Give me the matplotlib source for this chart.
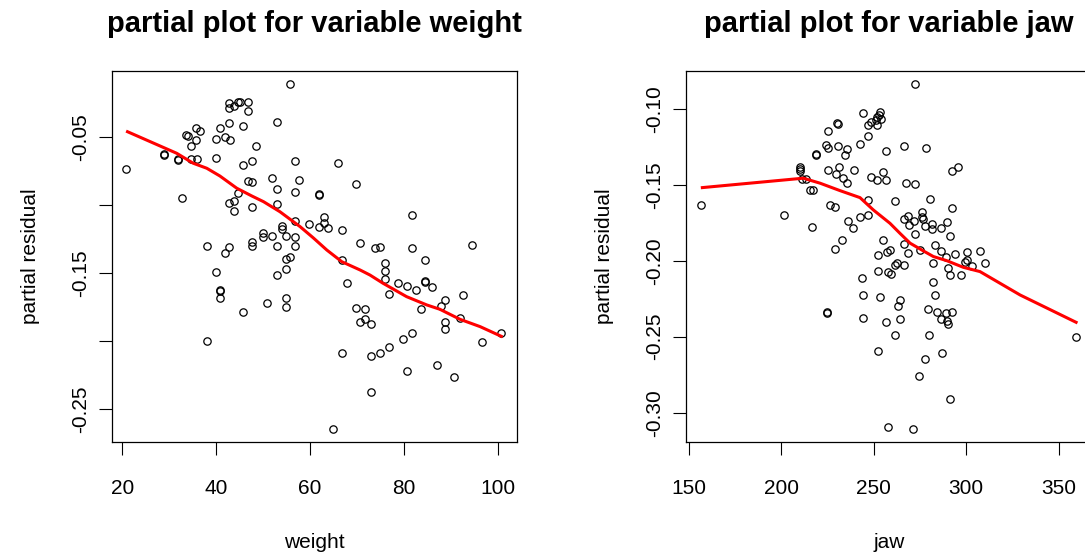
import matplotlib.pyplot as plt

plt.rcParams['font.family'] = ['Liberation Sans', 'DejaVu Sans']

# weight: partial residuals
weight = [55.8, 42.8, 42.8, 43.8, 44.7, 45.0, 46.8, 46.7, 52.9, 35.6, 36.6, 33.6, 33.9, 35.7, 34.6,
          40.8, 42.8, 45.8, 39.9, 41.9, 42.9, 48.6, 28.9, 28.9, 31.8, 31.8, 34.6, 35.9, 40.0, 20.8,
          45.8, 47.7, 56.8, 46.7, 47.7, 51.9, 52.9, 57.7, 56.8, 32.8, 44.7, 43.9, 42.8, 43.8, 47.7,
          52.9, 61.9, 61.9, 56.8, 59.7, 61.9, 54.0, 54.0, 54.8, 56.8, 49.9, 49.9, 51.9, 38.0, 42.8,
          47.7, 47.7, 52.9, 56.8, 41.9, 54.8, 55.8, 54.8, 52.9, 39.9, 40.9, 40.9, 40.9, 45.8, 50.9,
          54.8, 54.8, 38.0, 65.9, 69.8, 62.9, 62.9, 63.9, 66.8, 81.8, 70.7, 73.9, 74.9, 81.8, 94.6,
          66.8, 84.6, 75.9, 75.9, 75.9, 67.8, 78.8, 80.7, 82.7, 84.6, 84.6, 86.0, 76.9, 88.9, 87.9,
          92.7, 69.8, 71.7, 83.7, 71.7, 70.7, 73.0, 88.9, 88.9, 91.9, 100.8, 96.6, 81.8, 79.8, 76.9,
          74.9, 73.0, 66.8, 87.0, 80.8, 90.7, 73.0, 64.9]
weight_res = [-0.0108, -0.0250, -0.0287, -0.0270, -0.0242, -0.0240, -0.0240, -0.0309, -0.0387, -0.0429,
              -0.0454, -0.0485, -0.0490, -0.0520, -0.0566, -0.0432, -0.0397, -0.0419, -0.0510, -0.0498,
              -0.0520, -0.0566, -0.0623, -0.0632, -0.0658, -0.0667, -0.0662, -0.0662, -0.0655, -0.0733,
              -0.0702, -0.0677, -0.0677, -0.0822, -0.0831, -0.0800, -0.0878, -0.0812, -0.0903, -0.0945,
              -0.0912, -0.0967, -0.0981, -0.1045, -0.1011, -0.0991, -0.0915, -0.0925, -0.1114, -0.1136,
              -0.1158, -0.1153, -0.1177, -0.1224, -0.1232, -0.1202, -0.1232, -0.1224, -0.1300, -0.1311,
              -0.1269, -0.1298, -0.1300, -0.1300, -0.1350, -0.1394, -0.1379, -0.1472, -0.1514, -0.1494,
              -0.1624, -0.1634, -0.1683, -0.1784, -0.1718, -0.1683, -0.1751, -0.1997, -0.0687, -0.0844,
              -0.1087, -0.1133, -0.1168, -0.1182, -0.1070, -0.1280, -0.1317, -0.1310, -0.1313, -0.1291,
              -0.1405, -0.1405, -0.1427, -0.1484, -0.1541, -0.1573, -0.1573, -0.1595, -0.1626, -0.1558,
              -0.1567, -0.1604, -0.1651, -0.1695, -0.1742, -0.1661, -0.1754, -0.1764, -0.1764, -0.1837,
              -0.1862, -0.1877, -0.1860, -0.1909, -0.1830, -0.1940, -0.2009, -0.1940, -0.1987, -0.2041,
              -0.2088, -0.2110, -0.2088, -0.2176, -0.2222, -0.2264, -0.2377, -0.2647]
# lowess smooth
weight_fit_x = [21.1, 31.6, 35.1, 38.0, 40.8, 44.4, 47.6, 50.1, 53.6, 57.9, 60.7, 63.6, 66.8, 70.7,
                72.8, 75.6, 80.6, 84.9, 87.7, 92.0, 96.3, 100.8]
weight_fit_y = [-0.0459, -0.0618, -0.0691, -0.0728, -0.0785, -0.0875, -0.0932, -0.0974, -0.1048,
                -0.1158, -0.1240, -0.1330, -0.1416, -0.1477, -0.1514, -0.1575, -0.1673, -0.1734,
                -0.1766, -0.1840, -0.1894, -0.1965]

# jaw: partial residuals
jaw = [156.3, 201.4, 216.4, 210.3, 210.3, 210.3, 211.0, 213.1, 215.5, 217.2, 218.7, 218.7, 225.4,
       224.0, 225.4, 229.9, 230.8, 225.4, 229.5, 226.3, 229.0, 229.0, 224.5, 224.5, 272.3, 244.3,
       253.3, 252.8, 251.9, 253.9, 251.0, 251.9, 248.3, 246.7, 246.8, 230.4, 235.3, 234.4, 242.7,
       256.7, 266.5, 278.0, 231.1, 239.3, 233.5, 235.3, 248.5, 255.1, 251.9, 256.7, 267.4, 272.3,
       292.1, 295.4, 247.0, 261.6, 280.4, 292.1, 236.2, 238.6, 242.5, 247.0, 266.3, 268.3, 269.2,
       271.9, 275.9, 275.9, 276.8, 277.7, 281.3, 281.6, 286.3, 289.4, 291.2, 272.3, 232.8, 255.1,
       252.4, 257.0, 258.7, 266.3, 268.6, 275.0, 283.1, 286.3, 293.7, 300.2, 307.6, 288.9, 299.3,
       300.2, 303.1, 310.1, 282.2, 290.3, 291.2, 297.0, 252.4, 257.8, 259.1, 261.4, 262.4, 266.5,
       243.4, 282.2, 244.3, 253.3, 283.1, 264.1, 263.2, 244.3, 256.7, 264.1, 279.5, 284.3, 289.0,
       292.1, 286.2, 289.4, 290.3, 261.6, 279.7, 252.4, 277.8, 287.0, 274.6, 291.2, 257.5, 271.3,
       359.4]
jaw_res = [-0.1634, -0.1696, -0.1775, -0.1380, -0.1397, -0.1408, -0.1463, -0.1463, -0.1533, -0.1533,
           -0.1296, -0.1305, -0.1145, -0.1237, -0.1255, -0.1094, -0.1244, -0.1402, -0.1428, -0.1634,
           -0.1643, -0.1924, -0.2345, -0.2340, -0.0835, -0.1024, -0.1022, -0.1040, -0.1055, -0.1068,
           -0.1072, -0.1105, -0.1086, -0.1105, -0.1176, -0.1101, -0.1263, -0.1303, -0.1232, -0.1275,
           -0.1246, -0.1255, -0.1384, -0.1404, -0.1456, -0.1485, -0.1446, -0.1415, -0.1468, -0.1466,
           -0.1485, -0.1496, -0.1406, -0.1384, -0.1599, -0.1606, -0.1593, -0.1654, -0.1736, -0.1784,
           -0.1709, -0.1696, -0.1724, -0.1703, -0.1764, -0.1736, -0.1680, -0.1709, -0.1726, -0.1773,
           -0.1757, -0.1792, -0.1784, -0.1746, -0.1834, -0.1823, -0.1865, -0.1865, -0.1961, -0.1940,
           -0.1929, -0.1891, -0.1946, -0.1929, -0.1896, -0.1935, -0.1955, -0.1942, -0.1935, -0.1972,
           -0.2006, -0.1994, -0.2034, -0.2016, -0.2016, -0.2045, -0.2095, -0.2095, -0.2067, -0.2071,
           -0.2087, -0.2027, -0.2016, -0.2027, -0.2115, -0.2137, -0.2225, -0.2236, -0.2225, -0.2258,
           -0.2295, -0.2376, -0.2405, -0.2385, -0.2317, -0.2335, -0.2345, -0.2335, -0.2385, -0.2394,
           -0.2416, -0.2488, -0.2486, -0.2596, -0.2646, -0.2605, -0.2756, -0.2908, -0.3096, -0.3107,
           -0.2501]
jaw_fit_x = [157.2, 211.8, 220.9, 231.7, 242.5, 249.7, 258.7, 264.1, 269.6, 276.8, 282.2, 289.4,
             298.4, 307.4, 329.1, 359.4]
jaw_fit_y = [-0.1518, -0.1456, -0.1489, -0.1538, -0.1584, -0.1665, -0.1753, -0.1819, -0.1884,
             -0.1935, -0.1972, -0.1999, -0.2043, -0.2071, -0.2225, -0.2405]

weight_xticks = [20, 40, 60, 80, 100]
weight_yticks = [-0.05, -0.10, -0.15, -0.20, -0.25]
weight_ylabels = ['-0.05', '', '-0.15', '', '-0.25']
jaw_xticks = [150, 200, 250, 300, 350]
jaw_yticks = [-0.10, -0.15, -0.20, -0.25, -0.30]
jaw_ylabels = ['-0.10', '-0.15', '-0.20', '-0.25', '-0.30']

fig = plt.figure(figsize=(10.85, 5.58), dpi=100)
ax1 = fig.add_axes([0.1030, 0.2074, 0.3738, 0.6654])
ax2 = fig.add_axes([0.6323, 0.2074, 0.3738, 0.6654])


def partial_panel(ax, x, y, fx, fy, name, xticks, yticks, ylabels, xlim, ylim):
    ax.plot(x, y, 'o', mfc='none', mec='black', ms=5.3, mew=0.9)
    ax.plot(fx, fy, color='red', lw=2.2)
    ax.set_xlim(*xlim)
    ax.set_ylim(*ylim)
    ax.set_xticks(xticks)
    ax.set_xticklabels([str(t) for t in xticks])
    ax.set_yticks(yticks)
    ax.set_yticklabels(ylabels, rotation=90, va='center')
    ax.tick_params(length=9.5, width=0.8, labelsize=15, direction='out')
    ax.tick_params(axis='x', pad=17)
    ax.tick_params(axis='y', pad=6)
    for s in ax.spines.values():
        s.set_linewidth(0.9)
    ax.set_xlabel(name, fontsize=15)
    ax.xaxis.set_label_coords(0.5, -0.27)
    ax.xaxis.label.set_va('center')
    ax.set_ylabel('partial residual', fontsize=15)
    ax.yaxis.set_label_coords(-0.20, 0.5)
    ax.yaxis.label.set_va('center')
    ax.set_title('partial plot for variable ' + name, fontsize=21, fontweight='bold', pad=28)


partial_panel(ax1, weight, weight_res, weight_fit_x, weight_fit_y, 'weight',
              weight_xticks, weight_yticks, weight_ylabels, (17.74, 104.22), (-0.2745, -0.0012))
partial_panel(ax2, jaw, jaw_res, jaw_fit_x, jaw_fit_y, 'jaw',
              jaw_xticks, jaw_yticks, jaw_ylabels, (148.38, 367.8), (-0.3195, -0.075))

fig.savefig('out.png', dpi=100)
